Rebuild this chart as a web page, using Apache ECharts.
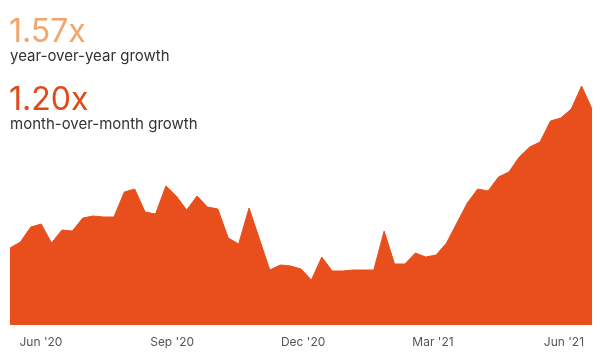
<!DOCTYPE html>
<html>
<head>
<meta charset="utf-8">
<script src="https://cdn.jsdelivr.net/npm/echarts@6/dist/echarts.min.js"></script>
<style>
html,body{margin:0;padding:0;background:#fff;}
#chart{width:600px;height:360px;}
</style>
</head>
<body>
<div id="chart"></div>
<script>
// weekly values (arbitrary units)
const values = [77,83,98,101,82,95,94,107,109,108,108,133,136,113,111,139,129,115,129,118,116,87,81,117,86,55,60,59,56,45,68,54,54,55,55,55,94,61,61,72,68,70,82,102,122,136,134,148,153,168,178,183,204,207,216,239,216];
// tick labels and their positions in week-index units
const tickLabels = ["Jun '20", "Sep '20", "Dec '20", "Mar '21", "Jun '21"];
const tickWeeks = [2.98, 15.6, 28.2, 40.7, 53.3];
const yoyText = "1.57x";
const yoyCaption = "year-over-year growth";
const momText = "1.20x";
const momCaption = "month-over-month growth";

const seriesData = values.map((v, i) => [i, v]);
const chart = echarts.init(document.getElementById('chart'), null, {renderer: 'canvas'});
const fontFamily = 'Inter, "Open Sans", sans-serif';
chart.setOption({
  animation: false,
  backgroundColor: '#ffffff',
  grid: {left: 10, right: 8, top: 75, bottom: 35},
  xAxis: {
    type: 'value',
    min: 0,
    max: values.length - 1,
    splitLine: {show: false},
    axisLine: {show: false},
    axisTick: {show: false},
    axisLabel: {
      customValues: tickWeeks,
      color: '#555555',
      fontSize: 12,
      fontFamily: fontFamily,
      margin: 11,
      formatter: function (val) {
        let best = 0, d = Infinity;
        tickWeeks.forEach((t, k) => { const dd = Math.abs(t - val); if (dd < d) { d = dd; best = k; } });
        return tickLabels[best];
      }
    }
  },
  yAxis: {
    type: 'value',
    min: 0,
    max: 250,
    show: false
  },
  series: [{
    type: 'line',
    data: seriesData,
    symbol: 'none',
    smooth: false,
    lineStyle: {color: '#E84F1D', width: 1},
    areaStyle: {color: '#E84F1D', opacity: 1}
  }],
  graphic: [
    {type: 'text', left: 9, top: 16, style: {text: yoyText, fill: '#F2A66B', font: '400 32px ' + fontFamily}},
    {type: 'text', left: 10, top: 49, style: {text: yoyCaption, fill: '#333333', font: '400 15px ' + fontFamily}},
    {type: 'text', left: 9, top: 84, style: {text: momText, fill: '#DE4A18', font: '400 32px ' + fontFamily}},
    {type: 'text', left: 10, top: 117, style: {text: momCaption, fill: '#333333', font: '400 15px ' + fontFamily}}
  ]
});
</script>
</body>
</html>
